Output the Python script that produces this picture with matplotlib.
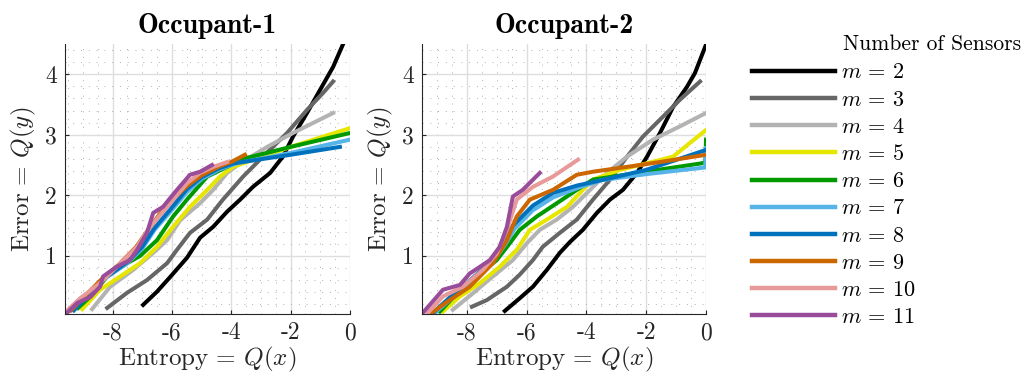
import matplotlib
matplotlib.use("Agg")
import matplotlib.pyplot as plt
from matplotlib.ticker import MultipleLocator
from matplotlib.lines import Line2D

plt.rcParams['font.family'] = 'cmr10'
plt.rcParams['mathtext.fontset'] = 'cm'
plt.rcParams['axes.unicode_minus'] = False
plt.rcParams['axes.formatter.use_mathtext'] = False

# sensor counts and colours
sensors = [2, 3, 4, 5, 6, 7, 8, 9, 10, 11]
colors = ['#000000', '#666666', '#b3b3b3', '#e6e600', '#009900',
          '#56b4e9', '#0072bd', '#cc6600', '#e89a9a', '#994c99']

# Occupant-1: (entropy, error) per m
occ1_x = {
    2: [-6.97, -6.5, -6.06, -5.49, -5.05, -4.61, -4.14, -3.70, -3.27, -2.69, -2.26, -1.92, -1.45, -1.01, -0.57, -0.24],
    3: [-8.18, -7.51, -6.84, -6.16, -5.83, -5.39, -4.81, -4.28, -3.6, -2.93, -2.12, -1.45, -0.91, -0.57],
    4: [-8.69, -8.08, -7.3, -6.63, -6.16, -5.72, -5.05, -4.61, -4.14, -3.7, -2.79, -1.92, -0.57],
    5: [-9.02, -8.42, -7.74, -7.07, -6.5, -5.96, -5.39, -4.81, -4.38, -3.94, -2.0, 0.0],
    6: [-9.16, -8.7, -8.18, -7.5, -7.07, -6.5, -5.96, -5.49, -4.81, -4.14, -3.7, -2.0, 0.0],
    7: [-9.36, -8.4, -7.5, -7.0, -6.6, -6.0, -5.5, -5.0, -4.4, -3.8, -2.0, 0.0],
    8: [-9.3, -8.3, -7.5, -7.0, -6.6, -6.0, -5.5, -5.0, -4.4, -3.9, -2.0, -0.34],
    9: [-9.4, -8.4, -7.8, -7.2, -6.7, -6.2, -5.5, -5.0, -4.4, -4.0, -3.54],
    10: [-9.5, -9.09, -8.42, -7.86, -7.17, -6.73, -6.16, -5.49, -5.05, -4.61, -4.14],
    11: [-9.53, -9.19, -8.75, -8.42, -8.32, -7.86, -7.41, -7.17, -6.84, -6.63, -6.3, -5.83, -5.39, -5.05, -4.65],
}
occ1_y = {
    2: [0.19, 0.41, 0.65, 0.97, 1.30, 1.48, 1.73, 1.93, 2.14, 2.37, 2.64, 2.97, 3.36, 3.74, 4.12, 4.49],
    3: [0.14, 0.39, 0.60, 0.88, 1.10, 1.38, 1.60, 1.93, 2.31, 2.64, 3.03, 3.41, 3.69, 3.88],
    4: [0.12, 0.49, 0.77, 1.05, 1.26, 1.59, 1.87, 2.09, 2.37, 2.53, 2.80, 3.03, 3.36],
    5: [0.12, 0.44, 0.66, 0.88, 1.15, 1.48, 1.81, 2.09, 2.31, 2.47, 2.80, 3.11],
    6: [0.14, 0.35, 0.66, 0.88, 1.00, 1.26, 1.65, 1.93, 2.31, 2.47, 2.59, 2.80, 3.03],
    7: [0.11, 0.58, 0.88, 1.12, 1.42, 1.76, 2.05, 2.27, 2.43, 2.53, 2.70, 2.92],
    8: [0.10, 0.62, 0.90, 1.15, 1.45, 1.80, 2.10, 2.30, 2.45, 2.53, 2.67, 2.80],
    9: [0.10, 0.60, 0.85, 1.15, 1.50, 1.83, 2.15, 2.33, 2.48, 2.55, 2.67],
    10: [0.11, 0.30, 0.55, 0.82, 1.15, 1.48, 1.81, 2.20, 2.37, 2.47, 2.55],
    11: [0.06, 0.22, 0.32, 0.49, 0.66, 0.82, 0.93, 1.10, 1.38, 1.71, 1.81, 2.09, 2.34, 2.39, 2.50],
}

# Occupant-2
occ2_x = {
    2: [-6.73, -6.23, -5.79, -5.32, -4.89, -4.55, -4.12, -3.65, -3.21, -2.78, -2.31, -1.97, -1.54, -1.1, -0.64, -0.37, 0.0],
    3: [-7.83, -7.33, -6.66, -6.23, -5.79, -5.46, -4.89, -4.32, -3.78, -3.21, -2.64, -2.11, -1.54, -0.87, -0.2],
    4: [-8.47, -7.8, -7.13, -6.46, -5.99, -5.56, -4.99, -4.45, -3.98, -3.31, -2.64, -1.77, -0.87, 0.0],
    5: [-8.8, -8.23, -7.56, -6.9, -6.33, -5.89, -5.32, -4.65, -4.12, -3.78, -2.88, -1.97, -1.1, 0.0],
    6: [-8.9, -8.33, -7.66, -7.0, -6.56, -6.23, -5.66, -4.99, -4.32, -3.78, -0.13, -0.02, 0.0],
    7: [-9.07, -8.5, -7.9, -7.2, -6.7, -6.4, -5.8, -5.1, -4.3, -3.5, -2.0, -0.03, 0.0],
    8: [-9.13, -8.6, -8.0, -7.2, -6.8, -6.46, -5.79, -5.12, -4.32, -3.5, -2.0, 0.0],
    9: [-9.17, -8.57, -7.9, -7.13, -6.66, -6.33, -5.89, -5.12, -4.32, -3.78, -2.64, -1.54, 0.0],
    10: [-9.3, -8.8, -8.13, -7.46, -7.0, -6.66, -6.33, -5.79, -5.12, -4.28],
    11: [-9.47, -8.8, -8.23, -7.9, -7.56, -7.23, -6.9, -6.66, -6.46, -6.13, -5.56],
}
occ2_y = {
    2: [0.09, 0.30, 0.49, 0.77, 1.05, 1.23, 1.43, 1.71, 1.93, 2.09, 2.37, 2.64, 3.03, 3.46, 3.79, 4.02, 4.49],
    3: [0.16, 0.27, 0.49, 0.69, 0.93, 1.15, 1.38, 1.60, 1.93, 2.26, 2.64, 2.97, 3.25, 3.58, 3.88],
    4: [0.11, 0.38, 0.66, 0.93, 1.21, 1.43, 1.60, 1.81, 2.04, 2.37, 2.64, 2.92, 3.14, 3.36],
    5: [0.08, 0.33, 0.55, 0.82, 1.10, 1.43, 1.60, 1.81, 2.09, 2.26, 2.42, 2.53, 2.64, 3.08],
    6: [0.08, 0.38, 0.66, 0.93, 1.21, 1.43, 1.65, 1.87, 2.09, 2.26, 2.53, 2.55, 2.92],
    7: [0.06, 0.30, 0.55, 0.85, 1.20, 1.45, 1.75, 1.97, 2.12, 2.25, 2.35, 2.46, 2.78],
    8: [0.06, 0.30, 0.55, 0.90, 1.20, 1.50, 1.83, 2.04, 2.16, 2.25, 2.42, 2.75],
    9: [0.06, 0.27, 0.49, 0.88, 1.26, 1.65, 1.93, 2.09, 2.34, 2.39, 2.47, 2.55, 2.67],
    10: [0.06, 0.33, 0.49, 0.77, 1.04, 1.43, 1.93, 2.14, 2.31, 2.59],
    11: [0.06, 0.44, 0.52, 0.71, 0.82, 0.93, 1.15, 1.48, 1.98, 2.09, 2.37],
}

fig = plt.figure(figsize=(10.21, 3.81), dpi=100)
ax1 = fig.add_axes([0.0637, 0.1759, 0.2791, 0.7087])
ax2 = fig.add_axes([0.4133, 0.1759, 0.2782, 0.7087])

panels = [(ax1, occ1_x, occ1_y, 'Occupant-1', -9.6),
          (ax2, occ2_x, occ2_y, 'Occupant-2', -9.5)]

for ax, xs, ys, title, xmin in panels:
    for m, c in zip(sensors, colors):
        ax.plot(xs[m], ys[m], color=c, lw=2.9, label=r'$m \,=\, %d$' % m)
    ax.set_xlim(xmin, 0)
    ax.set_ylim(0.04, 4.5)
    ax.set_xticks([-8, -6, -4, -2, 0])
    ax.set_yticks([1, 2, 3, 4])
    ax.xaxis.set_minor_locator(MultipleLocator(0.5))
    ax.yaxis.set_minor_locator(MultipleLocator(0.2))
    ax.grid(True, which='major', color='#dedede', lw=1.0)
    ax.grid(True, which='minor', color='#b0b0b0', lw=0.7, linestyle=(0, (1, 7)))
    ax.set_axisbelow(True)
    for s in ['top', 'right']:
        ax.spines[s].set_visible(False)
    for s in ['left', 'bottom']:
        ax.spines[s].set_color('#262626')
        ax.spines[s].set_linewidth(0.8)
    ax.tick_params(which='major', direction='in', length=3, color='#262626',
                   labelsize=17, labelcolor='#262626', pad=6)
    ax.tick_params(which='minor', length=0)
    ax.set_xlabel(r'$\mathrm{Entropy} \,=\, Q(x)$', fontsize=18, color='#262626', labelpad=0)
    ax.set_ylabel(r'$\mathrm{Error} \,=\, Q(y)$', fontsize=18, color='#262626', labelpad=5)
    ax.set_title(title, fontsize=20, fontfamily='cmb10', pad=8)

handles = [Line2D([0], [0], color=c, lw=3.2) for c in colors]
labels = [r'$m \,=\, %d$' % m for m in sensors]
fig.legend(handles, labels, loc='upper left', bbox_to_anchor=(0.737, 0.835),
           frameon=False, fontsize=16, handlelength=3.7, handletextpad=0.3,
           labelspacing=0.34, borderpad=0, borderaxespad=0)
fig.text(0.826, 0.885, 'Number of Sensors', fontsize=15.5, va='center', ha='left')

fig.savefig('out.png', dpi=100)
